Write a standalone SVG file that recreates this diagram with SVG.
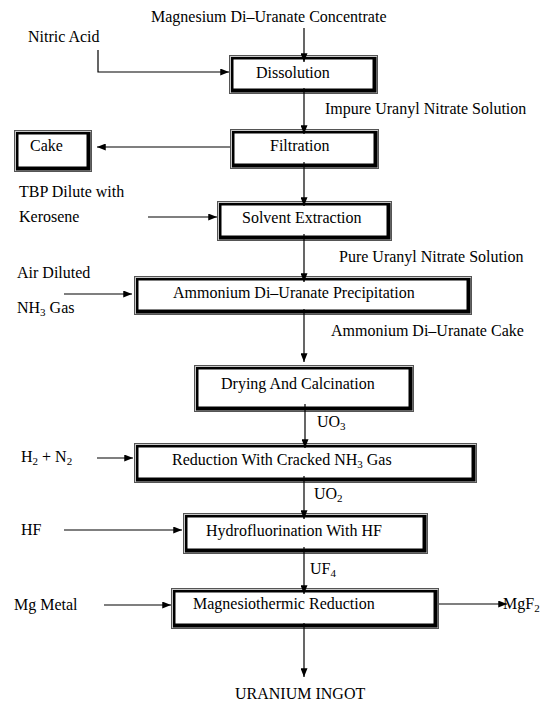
<svg xmlns="http://www.w3.org/2000/svg" width="541" height="704" viewBox="0 0 541 704">
<style>
text { font-family: "Liberation Serif", "Times New Roman", serif; font-size: 16px; fill: #000; }
.sub { font-size: 11px; }
.o { fill: #c8c8c8; stroke: #555; stroke-width: 1; }
.b { fill: #000; }
.w { fill: #fff; }
.c { fill: none; stroke: #000; stroke-width: 1.2; }
.a { marker-end: url(#ah); }
</style>
<defs>
<marker id="ah" viewBox="0 0 10 8" refX="10" refY="4" markerWidth="9" markerHeight="7" orient="auto" markerUnits="userSpaceOnUse">
<path d="M0,0 L10,4 L0,8 z" fill="#000"/>
</marker>
</defs>
<rect width="541" height="704" fill="#fff"/>

<g id="n-dissolution">
<rect class="o" x="229.5" y="55.5" width="148" height="38"/>
<rect class="b" x="231" y="57" width="145.5" height="35.5"/>
<rect class="w" x="233.5" y="59.5" width="139" height="29"/>
<text x="256" y="78">Dissolution</text>
</g>
<g id="n-filtration">
<rect class="o" x="230.5" y="129.5" width="148" height="39"/>
<rect class="b" x="232" y="131" width="145.5" height="36.5"/>
<rect class="w" x="234.5" y="133.5" width="139" height="30"/>
<text x="270" y="151">Filtration</text>
</g>
<g id="n-cake">
<rect class="o" x="14.5" y="130.5" width="77" height="41"/>
<rect class="b" x="16" y="132" width="74.5" height="38.5"/>
<rect class="w" x="18.5" y="134.5" width="68" height="32"/>
<text x="30" y="151">Cake</text>
</g>
<g id="n-solvent">
<rect class="o" x="217.5" y="201.5" width="174" height="39"/>
<rect class="b" x="219" y="203" width="171.5" height="36.5"/>
<rect class="w" x="221.5" y="205.5" width="165" height="30"/>
<text x="242" y="223">Solvent Extraction</text>
</g>
<g id="n-adu">
<rect class="o" x="134.5" y="276.5" width="337" height="38"/>
<rect class="b" x="136" y="278" width="334.5" height="35.5"/>
<rect class="w" x="138.5" y="280.5" width="328" height="29"/>
<text x="173" y="298">Ammonium Di–Uranate Precipitation</text>
</g>
<g id="n-drying">
<rect class="o" x="194.5" y="365.5" width="219" height="46"/>
<rect class="b" x="196" y="367" width="216.5" height="43.5"/>
<rect class="w" x="198.5" y="369.5" width="210" height="37"/>
<text x="221" y="389">Drying And Calcination</text>
</g>
<g id="n-reduction">
<rect class="o" x="134.5" y="443.5" width="342" height="39"/>
<rect class="b" x="136" y="445" width="339.5" height="36.5"/>
<rect class="w" x="138.5" y="447.5" width="333" height="30"/>
<text x="172" y="465">Reduction With Cracked NH<tspan class="sub" dy="3">3</tspan><tspan dy="-3"> Gas</tspan></text>
</g>
<g id="n-hydro">
<rect class="o" x="183.5" y="513.5" width="244" height="40"/>
<rect class="b" x="185" y="515" width="241.5" height="37.5"/>
<rect class="w" x="187.5" y="517.5" width="235" height="31"/>
<text x="206" y="536">Hydrofluorination With HF</text>
</g>
<g id="n-magnesio">
<rect class="o" x="171.5" y="588.5" width="267" height="40"/>
<rect class="b" x="173" y="590" width="264.5" height="37.5"/>
<rect class="w" x="175.5" y="592.5" width="258" height="31"/>
<text x="193" y="609">Magnesiothermic Reduction</text>
</g>

<g id="connectors">
<path class="c a" d="M304,28 L304,62"/>
<path class="c a" d="M98,50 L98,72 L229,72"/>
<path class="c a" d="M304,88 L304,134"/>
<path class="c a" d="M230,147 L97,147"/>
<path class="c a" d="M304,162 L304,206"/>
<path class="c a" d="M148,217 L217,217"/>
<path class="c a" d="M304,234 L304,282"/>
<path class="c a" d="M64,294 L132,294"/>
<path class="c a" d="M304,309 L304,362"/>
<path class="c a" d="M305,404 L305,448"/>
<path class="c a" d="M97,458 L133,458"/>
<path class="c a" d="M304,476 L304,519"/>
<path class="c a" d="M64,530 L182,530"/>
<path class="c a" d="M304,547 L304,594"/>
<path class="c a" d="M104,605 L171,605"/>
<path class="c a" d="M439,604 L507,604"/>
<path class="c a" d="M304,623 L304,677"/>
</g>

<g id="labels">
<text x="151" y="22">Magnesium Di–Uranate Concentrate</text>
<text x="28" y="42">Nitric Acid</text>
<text x="325" y="114">Impure Uranyl Nitrate Solution</text>
<text x="19" y="197">TBP Dilute with</text>
<text x="19" y="222">Kerosene</text>
<text x="339" y="262">Pure Uranyl Nitrate Solution</text>
<text x="17" y="278">Air Diluted</text>
<text x="17" y="313">NH<tspan class="sub" dy="3">3</tspan><tspan dy="-3"> Gas</tspan></text>
<text x="331" y="336">Ammonium Di–Uranate Cake</text>
<text x="317" y="427">UO<tspan class="sub" dy="3">3</tspan></text>
<text x="21" y="462">H<tspan class="sub" dy="3">2</tspan><tspan dy="-3"> + N</tspan><tspan class="sub" dy="3">2</tspan></text>
<text x="314" y="499">UO<tspan class="sub" dy="3">2</tspan></text>
<text x="21" y="535">HF</text>
<text x="310" y="574">UF<tspan class="sub" dy="3">4</tspan></text>
<text x="14" y="610">Mg Metal</text>
<text x="503" y="609">MgF<tspan class="sub" dy="3">2</tspan></text>
<text x="235" y="699">URANIUM INGOT</text>
</g>
</svg>
